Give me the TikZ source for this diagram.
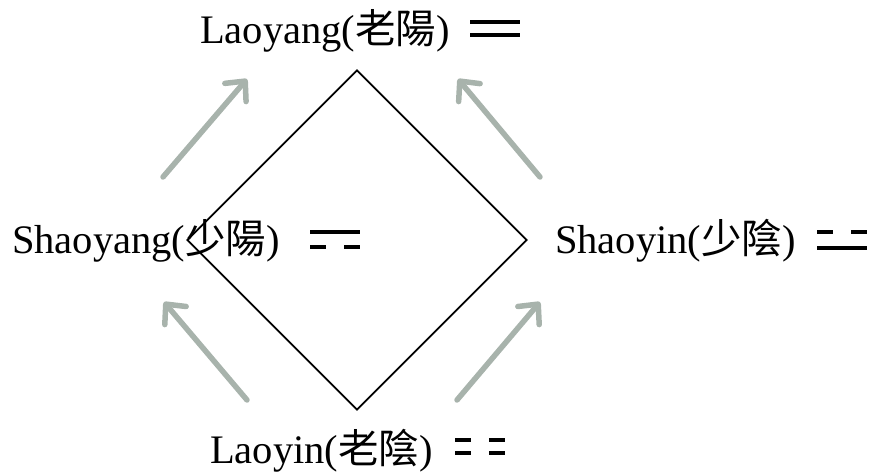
\documentclass[tikz,border=0pt]{standalone}
\usepackage{fontspec}
\setmainfont{Liberation Serif}
\newfontfamily\cjk{Noto Sans CJK TC}
\usetikzlibrary{arrows.meta,positioning,shapes.geometric}
\definecolor{flowgray}{HTML}{A8B3AC}
\tikzset{
  stagetext/.style={inner sep=0pt, anchor=base west, font=\fontsize{40.5}{48}\selectfont},
  flow/.style={-{Straight Barb[length=15pt,width=28pt,round]}, line width=5.5pt, line cap=round, draw=flowgray},
  bar/.style={line width=4pt},
  pics/yangbar/.style={code={\draw[bar] (0,0) -- (50,0);}},
  pics/yinbar/.style={code={\draw[bar] (0,0) -- (16,0) (34,0) -- (50,0);}}
}
\begin{document}
\begin{tikzpicture}[x=1pt,y=-1pt]
  \useasboundingbox (0,0) rectangle (871,472);
  \node[diamond, draw, line width=1.8pt, minimum width=340pt, minimum height=340pt, inner sep=0pt] (cycle) at (357,240) {};
  % the four stages
  \node[stagetext] (laoyang) at (200,43) {Laoyang({\cjk 老陽})};
  \node[stagetext] (shaoyang) at (12,253) {Shaoyang({\cjk 少陽})};
  \node[stagetext] (shaoyin) at (555,253) {Shaoyin({\cjk 少陰})};
  \node[stagetext] (laoyin) at (210,463) {Laoyin({\cjk 老陰})};
  % digrams
  \pic at ([xshift=20pt,yshift=21pt]laoyang.base east) {yangbar};
  \pic at ([xshift=20pt,yshift=8pt]laoyang.base east) {yangbar};
  \pic at ([xshift=30pt,yshift=21pt]shaoyang.base east) {yangbar};
  \pic at ([xshift=30pt,yshift=6pt]shaoyang.base east) {yinbar};
  \pic at ([xshift=21pt,yshift=21pt]shaoyin.base east) {yinbar};
  \pic at ([xshift=21pt,yshift=5pt]shaoyin.base east) {yangbar};
  \pic at ([xshift=22pt,yshift=23pt]laoyin.base east) {yinbar};
  \pic at ([xshift=22pt,yshift=10pt]laoyin.base east) {yinbar};
  % arrows
  \coordinate (ul-tail) at (163,177);
  \coordinate (ul-tip) at (247,79);
  \coordinate (ur-tail) at (540,177);
  \coordinate (ur-tip) at (458,79);
  \coordinate (ll-tail) at (247,400);
  \coordinate (ll-tip) at (164,302);
  \coordinate (lr-tail) at (457,400);
  \coordinate (lr-tip) at (540,302);
  \draw[flow] (ul-tail) -- (ul-tip);
  \draw[flow] (ur-tail) -- (ur-tip);
  \draw[flow] (ll-tail) -- (ll-tip);
  \draw[flow] (lr-tail) -- (lr-tip);
\end{tikzpicture}
\end{document}
